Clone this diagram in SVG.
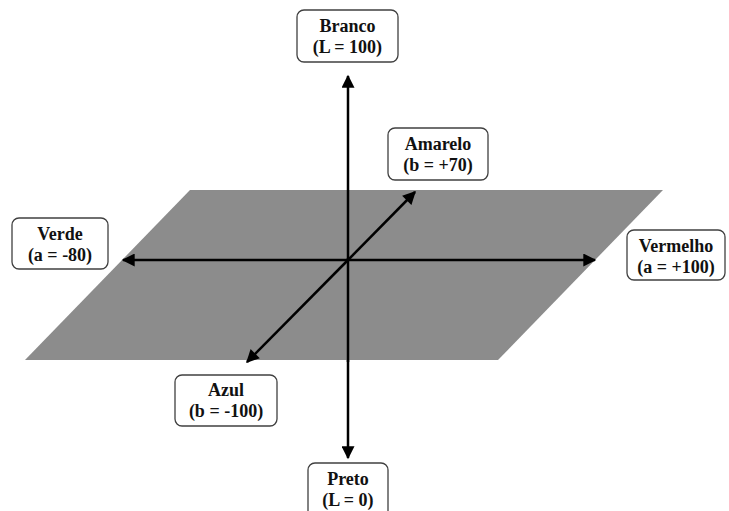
<svg xmlns="http://www.w3.org/2000/svg" width="729" height="511" viewBox="0 0 729 511">
<style>
.box{fill:#fff;stroke:#404040;stroke-width:1.3}
.t{font-family:"Liberation Serif","Times New Roman",serif;font-weight:bold;font-size:18px;fill:#111;text-anchor:middle}
.ax{stroke:#000;stroke-width:2.5;fill:none;marker-end:url(#ah)}
</style>
<defs>
<marker id="ah" viewBox="0 0 10 10" refX="9" refY="5" markerWidth="5.6" markerHeight="5.2" orient="auto" markerUnits="strokeWidth">
<path d="M0,0 L10,5 L0,10 Z" fill="#000"/>
</marker>
</defs>
<rect width="729" height="511" fill="#fff"/>
<polygon id="plane" points="190,190 663,190 498,360 25,360" fill="#8c8c8c"/>
<g id="connectors">
<line class="ax" x1="348" y1="260" x2="348" y2="76"/>
<line class="ax" x1="348" y1="360" x2="348" y2="458"/>
<line class="ax" x1="348" y1="260" x2="123" y2="260"/>
<line class="ax" x1="348" y1="260" x2="595" y2="260"/>
<line class="ax" x1="348" y1="260" x2="415" y2="192"/>
<line class="ax" x1="348" y1="260" x2="247" y2="362"/>
<line stroke="#000" stroke-width="2.5" x1="348" y1="258" x2="348" y2="362"/>
</g>
<g id="branco">
<rect class="box" x="297" y="10" width="101" height="52" rx="7"/>
<text class="t" x="347.5" y="32">Branco</text>
<text class="t" x="347.5" y="53">(L = 100)</text>
</g>
<g id="amarelo">
<rect class="box" x="388" y="128" width="100" height="52" rx="7"/>
<text class="t" x="438" y="150">Amarelo</text>
<text class="t" x="438" y="171">(b = +70)</text>
</g>
<g id="verde">
<rect class="box" x="12" y="218" width="96" height="51" rx="7"/>
<text class="t" x="60" y="240">Verde</text>
<text class="t" x="60" y="261">(a = -80)</text>
</g>
<g id="vermelho">
<rect class="box" x="627" y="230" width="98" height="50" rx="7"/>
<text class="t" x="676" y="252">Vermelho</text>
<text class="t" x="676" y="273">(a = +100)</text>
</g>
<g id="azul">
<rect class="box" x="175" y="375" width="102" height="51" rx="7"/>
<text class="t" x="226" y="396">Azul</text>
<text class="t" x="226" y="417">(b = -100)</text>
</g>
<g id="preto">
<rect class="box" x="308" y="463" width="80" height="56" rx="7"/>
<text class="t" x="348" y="485">Preto</text>
<text class="t" x="348" y="506">(L = 0)</text>
</g>
</svg>
